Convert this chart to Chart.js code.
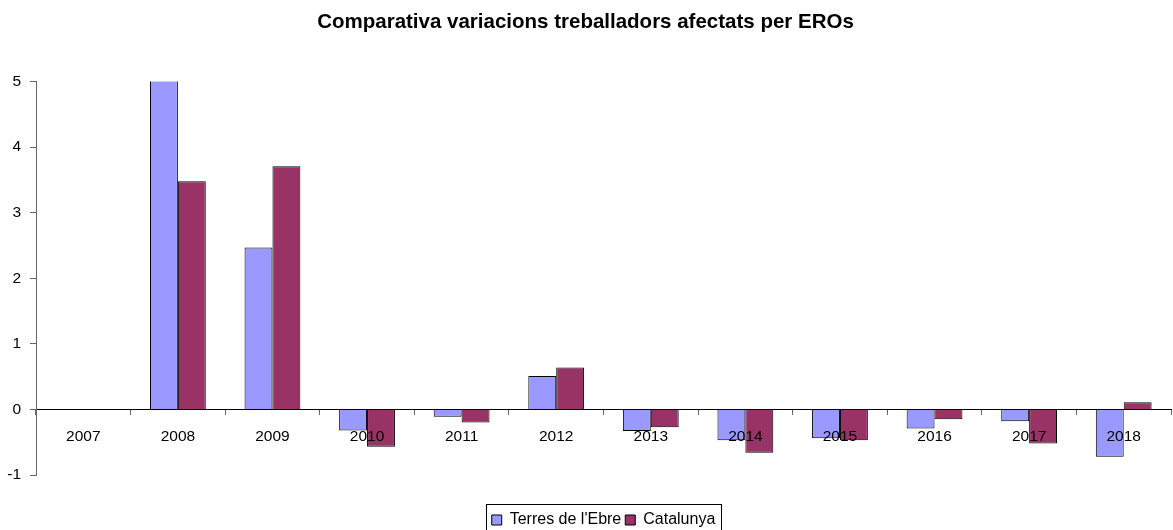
<!DOCTYPE html>
<html>
<head>
<meta charset="utf-8">
<script src="https://cdn.jsdelivr.net/npm/chart.js@4/dist/chart.umd.min.js"></script>
<style>
  html, body { margin: 0; padding: 0; background: #fff; }
  #wrap { width: 1173px; height: 530px; }
</style>
</head>
<body>
<div id="wrap"><canvas id="chart"></canvas></div>
<script>
const years = ["2007", "2008", "2009", "2010", "2011", "2012", "2013", "2014", "2015", "2016", "2017", "2018"];
const terresEbre = [null, 6.2, 2.47, -0.32, -0.11, 0.51, -0.33, -0.47, -0.44, -0.29, -0.18, -0.72];
const catalunya = [null, 3.48, 3.71, -0.57, -0.2, 0.64, -0.27, -0.66, -0.47, -0.15, -0.52, 0.11];

const FONT = "'Liberation Sans', Arial, sans-serif";

// frame round the legend items only, as in the original
const legendFrame = {
  id: "legendFrame",
  afterDraw(chart) {
    const lg = chart.legend;
    if (!lg || !lg.legendHitBoxes || !lg.legendHitBoxes.length) return;
    const boxes = lg.legendHitBoxes;
    const left = Math.min(...boxes.map(b => b.left)) - 6;
    const right = Math.max(...boxes.map(b => b.left + b.width)) + 5;
    const top = Math.min(...boxes.map(b => b.top)) - 8;
    const bottom = Math.max(...boxes.map(b => b.top + b.height)) + 8;
    const ctx = chart.ctx;
    ctx.save();
    ctx.strokeStyle = "#000";
    ctx.lineWidth = 1;
    ctx.strokeRect(Math.round(left) + 0.5, Math.round(top) + 0.5,
      Math.round(right - left), Math.round(bottom - top));
    ctx.restore();
  }
};

new Chart(document.getElementById("chart"), {
  type: "bar",
  plugins: [legendFrame],
  data: {
    labels: years,
    datasets: [
      {
        label: "Terres de l'Ebre",
        data: terresEbre,
        backgroundColor: "#9999FF",
        borderColor: "#000",
        borderWidth: 1
      },
      {
        label: "Catalunya",
        data: catalunya,
        backgroundColor: "#993366",
        borderColor: "#000",
        borderWidth: 1
      }
    ]
  },
  options: {
    responsive: true,
    maintainAspectRatio: false,
    animation: false,
    devicePixelRatio: 1,
    categoryPercentage: 0.59,
    barPercentage: 1,
    layout: { padding: { left: 0, right: 2, top: 0, bottom: -8 } },
    plugins: {
      tooltip: { enabled: false },
      title: {
        display: true,
        text: "Comparativa variacions treballadors afectats per EROs",
        color: "#000",
        font: { family: FONT, size: 20.5, weight: "bold" },
        padding: { top: 10, bottom: 47 }
      },
      legend: {
        position: "bottom",
        fullSize: false,
        labels: {
          color: "#000",
          font: { family: FONT, size: 16 },
          boxWidth: 10,
          boxHeight: 10,
          padding: 4
        }
      }
    },
    scales: {
      x: {
        position: { y: 0 },
        grid: {
          display: true,
          drawOnChartArea: false,
          drawTicks: true,
          tickLength: 5,
          offset: true,
          color: "#666"
        },
        border: { display: true, color: "#000", width: 1 },
        ticks: {
          z: 1,
          color: "#000",
          font: { family: FONT, size: 15.5 },
          padding: 13,
          maxRotation: 0
        }
      },
      // empty strip that keeps the space between the plot and the legend
      gap: {
        type: "category",
        position: "bottom",
        afterFit: s => { s.height = 33; },
        grid: { display: false },
        border: { display: false },
        ticks: { display: false }
      },
      y: {
        min: -1,
        max: 5,
        afterFit: s => { s.width = 36; },
        grid: {
          display: true,
          drawOnChartArea: false,
          drawTicks: true,
          tickLength: 6,
          color: "#666"
        },
        border: { display: true, color: "#666", width: 1 },
        ticks: {
          stepSize: 1,
          color: "#000",
          font: { family: FONT, size: 15.5 },
          padding: 9
        }
      }
    }
  }
});
</script>
</body>
</html>
